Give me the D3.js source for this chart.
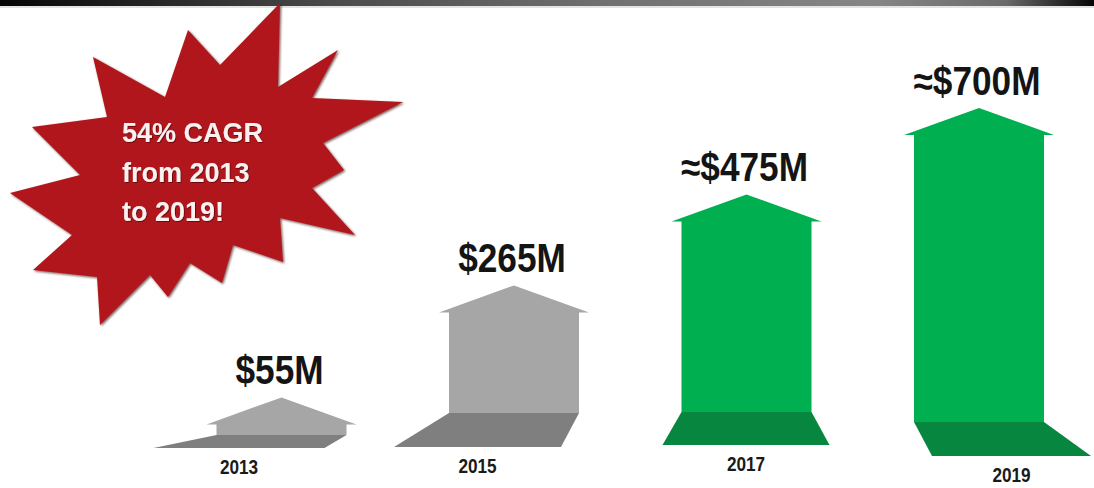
<!DOCTYPE html>
<html>
<head>
<meta charset="utf-8">
<script src="https://cdn.jsdelivr.net/npm/d3@7"></script>
<style>
  html, body { margin: 0; padding: 0; background: #ffffff; }
  svg { display: block; }
</style>
</head>
<body>
<script>
// ---- data ----
const years = ["2013", "2015", "2017", "2019"];
const revenue = [55, 265, 475, 700];            // $M
const valueLabels = ["$55M", "$265M", "≈$475M", "≈$700M"];
const status = ["actual", "actual", "estimate", "estimate"];
const calloutLines = ["54% CAGR", "from 2013", "to 2019!"];

// ---- layout ----
const W = 1094, H = 488;
const shaftW = 130, headW = 150, headH = 27;

// ground line and perspective floor for each arrow
const floors = {
  "2013": { ground: 435, depth: 13, skewL: -63, skewR: -22 },
  "2015": { ground: 413, depth: 34, skewL: -55, skewR: -18 },
  "2017": { ground: 412, depth: 33, skewL: -19, skewR: 18 },
  "2019": { ground: 422, depth: 34, skewL: 18, skewR: 47 }
};

const shaftColor = d3.scaleOrdinal().domain(["actual", "estimate"]).range(["#a6a6a6", "#00b050"]);
const floorColor = d3.scaleOrdinal().domain(["actual", "estimate"]).range(["#7f7f7f", "#07863f"]);

const x = d3.scalePoint().domain(years).range([281.5, 979]);
const h = d3.scaleLinear().domain([0, 700]).range([14, 314]);

const rows = years.map((year, i) => ({
  year, value: revenue[i], label: valueLabels[i], status: status[i], floor: floors[year]
}));

const svg = d3.select("body").append("svg")
  .attr("width", W).attr("height", H)
  .attr("viewBox", [0, 0, W, H]);

const defs = svg.append("defs");

// header band
const band = defs.append("linearGradient").attr("id", "band");
[[0, "#050505"], [0.07, "#161616"], [0.3, "#4a4a4a"], [0.55, "#707070"],
 [0.8, "#868686"], [0.92, "#6a6a6a"], [0.97, "#2a2a2a"], [1, "#050505"]]
  .forEach(([o, c]) => band.append("stop").attr("offset", o).attr("stop-color", c));

svg.append("rect").attr("x", 0).attr("y", 0).attr("width", W).attr("height", 6)
  .attr("fill", "url(#band)");
svg.append("rect").attr("x", 0).attr("y", 6).attr("width", W).attr("height", 2)
  .attr("fill", "#e4e4e4");

// soft shadow for the burst and its text
const burstShadow = defs.append("filter").attr("id", "burstShadow")
  .attr("x", "-10%").attr("y", "-10%").attr("width", "120%").attr("height", "120%");
burstShadow.append("feDropShadow").attr("dx", 1.2).attr("dy", 1.2)
  .attr("stdDeviation", 1).attr("flood-color", "#3a0a0a").attr("flood-opacity", 0.7);

const textShadow = defs.append("filter").attr("id", "textShadow");
textShadow.append("feDropShadow").attr("dx", 0.8).attr("dy", 0.8)
  .attr("stdDeviation", 0.6).attr("flood-color", "#4a0000").attr("flood-opacity", 0.8);

// ---- arrows ----
const arrows = svg.append("g").attr("class", "arrows");

const g = arrows.selectAll("g.arrow").data(rows).join("g").attr("class", "arrow");

// floor (perspective base)
g.append("path")
  .attr("fill", d => floorColor(d.status))
  .attr("d", d => {
    const cx = x(d.year), f = d.floor;
    const l = cx - shaftW / 2, r = cx + shaftW / 2;
    return d3.line()([
      [l, f.ground], [r, f.ground],
      [r + f.skewR, f.ground + f.depth], [l + f.skewL, f.ground + f.depth]
    ]) + "Z";
  });

// arrow body: shaft + head, height from revenue
g.append("path")
  .attr("fill", d => shaftColor(d.status))
  .attr("d", d => {
    const cx = x(d.year), base = d.floor.ground;
    const apex = base - h(d.value);
    const neck = apex + headH;
    return d3.line()([
      [cx - shaftW / 2, base], [cx - shaftW / 2, neck], [cx - headW / 2, neck],
      [cx, apex],
      [cx + headW / 2, neck], [cx + shaftW / 2, neck], [cx + shaftW / 2, base]
    ]) + "Z";
  });

// value labels above arrows (condensed bold)
g.append("text")
  .attr("transform", d => `translate(${x(d.year) - 2},${d.floor.ground - h(d.value) - 13}) scale(0.88,1)`)
  .attr("text-anchor", "middle")
  .attr("font-family", "'Liberation Sans', Arial, sans-serif")
  .attr("font-weight", "bold")
  .attr("font-size", 40)
  .attr("fill", "#141414")
  .text(d => d.label);

// year labels under the floors
g.append("text")
  .attr("transform", d => {
    const cx = x(d.year), f = d.floor;
    const fx = cx + (f.skewL + f.skewR) / 2;
    return `translate(${fx},${f.ground + f.depth + 26}) scale(0.86,1)`;
  })
  .attr("text-anchor", "middle")
  .attr("font-family", "'Liberation Sans', Arial, sans-serif")
  .attr("font-weight", "bold")
  .attr("font-size", 20)
  .attr("fill", "#1a1a1a")
  .text(d => d.year);

// ---- growth callout burst ----
const burstOutline = [
  [280, 3], [278, 87], [338, 50], [312, 98], [403, 102], [323, 143], [344, 170],
  [312, 188], [355, 235], [280, 218], [283, 262], [233, 245], [222, 283],
  [190, 263], [168, 297], [150, 275], [100, 325], [97, 277], [33, 270],
  [72, 235], [10, 193], [80, 175], [32, 127], [107, 117], [93, 57],
  [165, 97], [188, 30], [220, 65]
];

svg.append("path")
  .attr("d", d3.line()(burstOutline) + "Z")
  .attr("fill", "#b0191b")
  .attr("filter", "url(#burstShadow)");

svg.append("g")
  .attr("filter", "url(#textShadow)")
  .selectAll("text").data(calloutLines).join("text")
  .attr("x", 122)
  .attr("y", (d, i) => 142 + i * 39.5)
  .attr("font-family", "'Liberation Sans', Arial, sans-serif")
  .attr("font-weight", "bold")
  .attr("font-size", 27)
  .attr("fill", "#fbf1f1")
  .text(d => d);
</script>
</body>
</html>
